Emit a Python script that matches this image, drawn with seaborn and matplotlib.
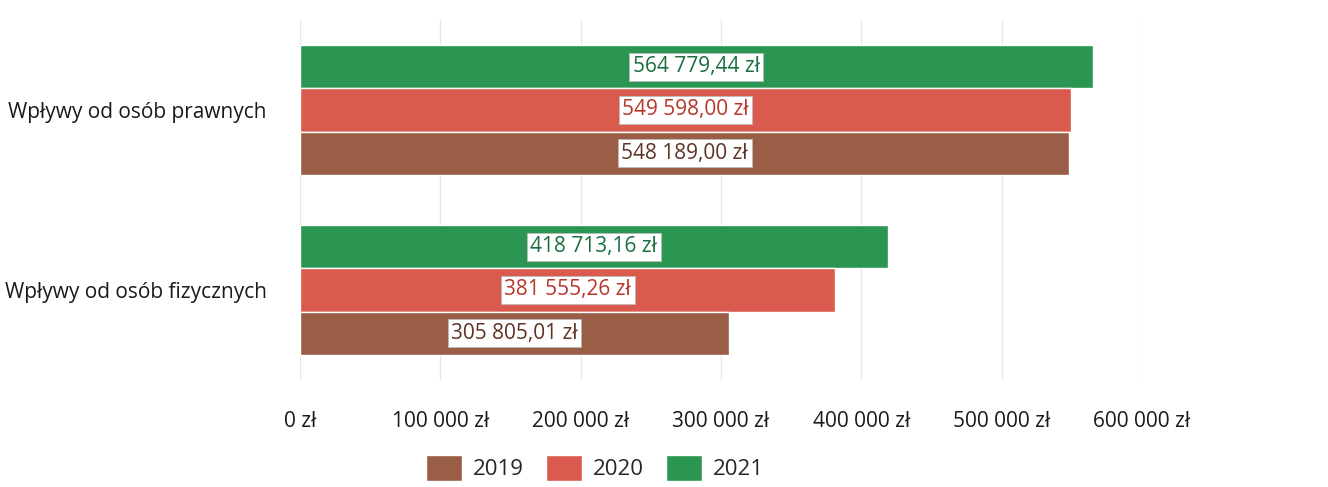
import pandas as pd
import numpy as np
import matplotlib.pyplot as plt
import seaborn as sns
from matplotlib.patches import Patch
from matplotlib.ticker import FuncFormatter

# DATA
categories = ['Wpływy od osób prawnych', 'Wpływy od osób fizycznych']
years = ['2019', '2020', '2021']
values_2019 = [548189.00, 305805.01]
values_2020 = [549598.00, 381555.26]
values_2021 = [564779.44, 418713.16]

colors = {'2019': '#9A5E47', '2020': '#DA5A4E', '2021': '#2B9552'}
text_colors = {'2019': '#5E3324', '2020': '#B8352A', '2021': '#1C6E3E'}

df = pd.DataFrame({
    'kategoria': categories * 3,
    'rok': ['2019'] * 2 + ['2020'] * 2 + ['2021'] * 2,
    'wartosc': values_2019 + values_2020 + values_2021,
})

sns.set_style('white')
plt.rcParams['font.family'] = ['Open Sans', 'DejaVu Sans']


def pln(v):
    s = f'{v:,.2f}'.replace(',', ' ').replace('.', ',')
    return s + ' zł'


fig = plt.figure(figsize=(13.28, 4.87), dpi=100)
ax = fig.add_axes([300 / 1328, 107 / 487, 842 / 1328, 360 / 487])

hue_order = ['2021', '2020', '2019']
sns.barplot(
    data=df, y='kategoria', x='wartosc', hue='rok',
    hue_order=hue_order, order=categories,
    palette=colors, width=0.72, orient='h',
    saturation=1, ax=ax, legend=False,
)

# value labels in white boxes
for cont, yr in zip(ax.containers, hue_order):
    labels = [pln(v) for v in cont.datavalues]
    ax.bar_label(
        cont, labels=labels, label_type='center',
        color=text_colors[yr], fontsize=15,
        bbox=dict(facecolor='white', edgecolor='#bbbbbb', linewidth=0.6, pad=2.5),
    )

ax.set_xlim(0, 600000)
ax.set_ylim(1.5, -0.5)
ax.set_xticks(np.arange(0, 600001, 100000))
ax.xaxis.set_major_formatter(
    FuncFormatter(lambda v, p: f'{v:,.0f}'.replace(',', ' ') + ' zł'))
ax.tick_params(axis='x', labelsize=15, pad=22, length=0, colors='#1a1a1a')
ax.tick_params(axis='y', labelsize=15, pad=24, length=0, colors='#1a1a1a')
ax.grid(axis='x', color='#e6e6e6', linewidth=1)
ax.set_axisbelow(True)
for s in ax.spines.values():
    s.set_visible(False)
ax.set_xlabel('')
ax.set_ylabel('')

handles = [Patch(facecolor=colors[y], label=y) for y in years]
fig.legend(
    handles=handles, loc='center', bbox_to_anchor=(595 / 1328, 1 - 468 / 487),
    ncol=3, frameon=False, fontsize=16, handlelength=1.6, handleheight=1.4,
    columnspacing=1.0, handletextpad=0.5,
)

plt.savefig('out.png', dpi=100)
